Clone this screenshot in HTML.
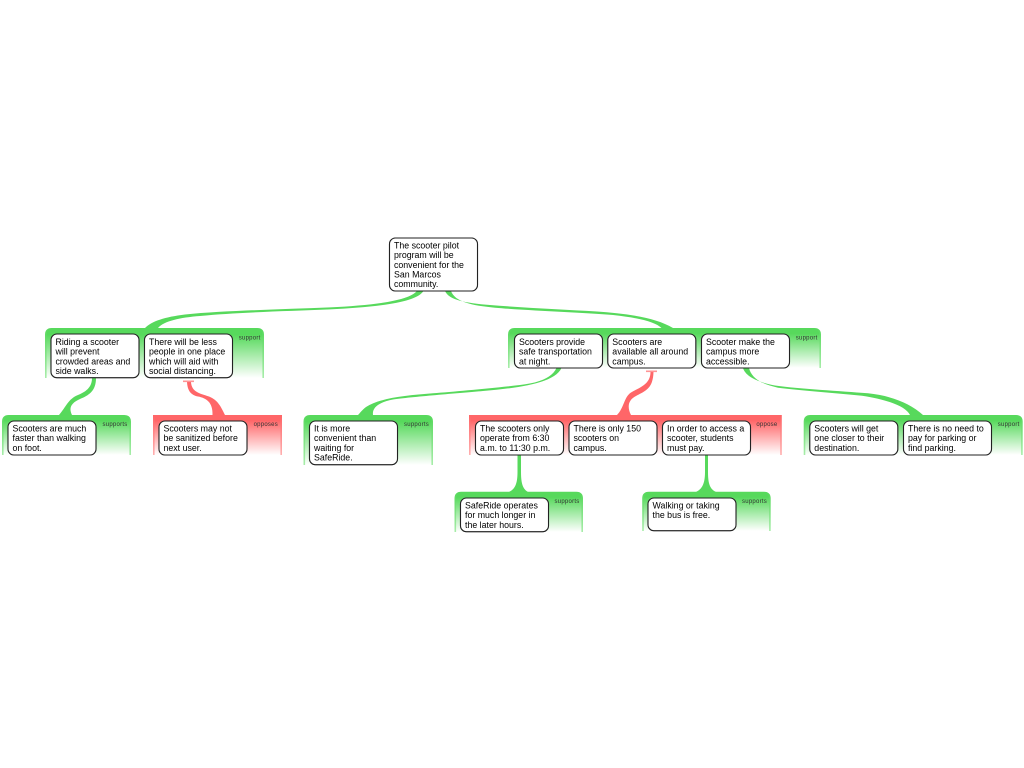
<!DOCTYPE html>
<html>
<head>
<meta charset="utf-8">
<style>
html,body{margin:0;padding:0;background:#fff;width:1024px;height:768px;overflow:hidden}
svg{display:block;position:absolute;left:0;top:0}
text{font-family:"Liberation Sans",sans-serif}
.t{font-size:8.8px;fill:#000}
.l{font-size:6px;fill:#333;text-anchor:end;letter-spacing:.25px}
.b{fill:#fff;stroke:#222;stroke-width:1.1;filter:drop-shadow(0 .6px 0 #777)}
.gg{fill:url(#fg);stroke:url(#sg);stroke-width:1.6}
.gr{fill:url(#fr);stroke:url(#sr);stroke-width:1.6}
.cg{fill:#57d95c}
.cr{fill:#ff6668}
</style>
</head>
<body>
<svg width="1024" height="768" viewBox="0 0 1024 768" xmlns="http://www.w3.org/2000/svg">
<defs>
<linearGradient id="fg" x1="0" y1="0" x2="0" y2="1"><stop offset="0" stop-color="#57d95c"/><stop offset=".12" stop-color="#57d95c"/><stop offset="1" stop-color="#fff"/></linearGradient>
<linearGradient id="sg" x1="0" y1="0" x2="0" y2="1"><stop offset="0" stop-color="#57d95c"/><stop offset="1" stop-color="#a8edaa"/></linearGradient>
<linearGradient id="fr" x1="0" y1="0" x2="0" y2="1"><stop offset="0" stop-color="#ff6668"/><stop offset=".12" stop-color="#ff6668"/><stop offset="1" stop-color="#fff"/></linearGradient>
<linearGradient id="sr" x1="0" y1="0" x2="0" y2="1"><stop offset="0" stop-color="#ff6668"/><stop offset="1" stop-color="#ffb0b0"/></linearGradient>
</defs>

<!-- connectors -->
<path class="cg" d="M417,291 C408,301 375,305 330,307.400 C280,309.500 225,310.500 185,314.500 C165,317 152,321 145,328 L158,328 C164,321 180,317.500 200,316 C235,312.500 285,311.200 330,309.400 C375,307 416,303 423.500,291 Z"/>
<path class="cg" d="M445,291 C449,300 465,303 490,305 C525,307.800 565,309.500 597,311.500 C625,313.500 655,317 673,328 L661.500,328 C655,322 640,318 613,315 C585,312.500 530,310.700 495,307.700 C472,305.500 455,302 451,291 Z"/>
<path class="cg" d="M92,378 C92,388 85,392 78,395 C68,399 66,407 59,415 L72,415 C68.500,408 71,403 80,399 C90,395 96,390 96,378 Z"/>
<path class="cr" d="M187,382 C187.500,391 191,395 198,396.500 C206,398 213,402 212.500,415 L225,415 C221,407 218,400 209,396.500 C200,393.500 191.500,392 191,382 Z"/>
<rect x="183" y="380.500" width="11" height="1.600" fill="#ff9496"/>
<path class="cg" d="M556.500,368 C552,378 538,383 520,385 C490,388.500 455,391.500 433,393.300 C405,395.500 380,398 366,407 C362,410 360,413 358,415 L373,415 C372,408 378,402.500 393,399.500 C410,397 460,393 483,391 C525,387.500 555,382 561.500,368 Z"/>
<path class="cr" d="M650.500,372 C650.500,385 638,388 631,392.500 C624,397 624,408 617,415 L631,415 C627,407 628,400 636,396 C645,391 653,389 653.500,372 Z"/>
<rect x="646" y="370.500" width="11" height="1.600" fill="#ff9496"/>
<path class="cg" d="M743,368 C746,378 762,383 775,385.500 C800,389 840,391 868,393.300 C890,395.500 910,403 923,415 L910,415 C906,407 890,400 862,395.700 C835,393 800,390.500 778,387.700 C765,385 752,380 749,368 Z"/>
<path class="cg" d="M517.500,455 L517.500,472 C517.500,484 515,489 509,492 L528,492 C523,489 521,484 521,472 L521,455 Z"/>
<path class="cg" d="M705,455 L705,472 C705,484 702,489 696,492 L716,492 C710,489 708,484 708,472 L708,455 Z"/>

<!-- groups -->
<path class="gg" d="M45.800,378 V334.800 Q45.800,328.800 51.800,328.800 H257.200 Q263.200,328.800 263.200,334.800 V378"/>
<path class="gg" d="M508.800,368 V334.800 Q508.800,328.800 514.800,328.800 H814.200 Q820.200,328.800 820.200,334.800 V368"/>
<path class="gg" d="M2.800,455 V421.800 Q2.800,415.800 8.800,415.800 H124.200 Q130.200,415.800 130.200,421.800 V455"/>
<path class="gr" d="M153.800,455 V415.800 H281.200 V455"/>
<path class="gg" d="M304.300,465 V421.800 Q304.300,415.800 310.300,415.800 H426.200 Q432.200,415.800 432.200,421.800 V465"/>
<path class="gr" d="M469.800,455 V415.800 H781 V455"/>
<path class="gg" d="M804.500,455 V421.800 Q804.500,415.800 810.500,415.800 H1015.900 Q1021.900,415.800 1021.900,421.800 V455"/>
<path class="gg" d="M455.300,532 V498.500 Q455.300,492.500 461.300,492.500 H576.200 Q582.200,492.500 582.200,498.500 V532"/>
<path class="gg" d="M643,531 V498.500 Q643,492.500 649,492.500 H763.900 Q769.900,492.500 769.900,498.500 V531"/>

<!-- group labels -->
<text class="l" x="260.500" y="339.500">support</text>
<text class="l" x="817.500" y="339.500">support</text>
<text class="l" x="127.500" y="426">supports</text>
<text class="l" x="278" y="426">opposes</text>
<text class="l" x="429" y="426">supports</text>
<text class="l" x="777.500" y="426">oppose</text>
<text class="l" x="1019.500" y="426">support</text>
<text class="l" x="579.500" y="503">supports</text>
<text class="l" x="767" y="503">supports</text>

<!-- root -->
<rect class="b" x="389.500" y="238" width="88" height="53" rx="6"/>
<text class="t" x="394" y="248.500">The scooter pilot</text>
<text class="t" x="394" y="258.200">program will be</text>
<text class="t" x="394" y="267.900">convenient for the</text>
<text class="t" x="394" y="277.500">San Marcos</text>
<text class="t" x="394" y="287.200">community.</text>

<!-- level 1 left -->
<rect class="b" x="51" y="334" width="88" height="43.700" rx="6"/>
<text class="t" x="55.500" y="345">Riding a scooter</text>
<text class="t" x="55.500" y="354.700">will prevent</text>
<text class="t" x="55.500" y="364.300">crowded areas and</text>
<text class="t" x="55.500" y="374">side walks.</text>

<rect class="b" x="144.500" y="334" width="88" height="43.700" rx="6"/>
<text class="t" x="149" y="345">There will be less</text>
<text class="t" x="149" y="354.700">people in one place</text>
<text class="t" x="149" y="364.300">which will aid with</text>
<text class="t" x="149" y="374">social distancing.</text>

<!-- level 1 right -->
<rect class="b" x="514.500" y="334" width="88" height="34" rx="6"/>
<text class="t" x="519" y="345">Scooters provide</text>
<text class="t" x="519" y="354.700">safe transportation</text>
<text class="t" x="519" y="364.300">at night.</text>

<rect class="b" x="607.800" y="334" width="88" height="34" rx="6"/>
<text class="t" x="612.300" y="345">Scooters are</text>
<text class="t" x="612.300" y="354.700">available all around</text>
<text class="t" x="612.300" y="364.300">campus.</text>

<rect class="b" x="701.500" y="334" width="88" height="34" rx="6"/>
<text class="t" x="706" y="345">Scooter make the</text>
<text class="t" x="706" y="354.700">campus more</text>
<text class="t" x="706" y="364.300">accessible.</text>

<!-- level 2 -->
<rect class="b" x="8" y="421" width="88" height="34" rx="6"/>
<text class="t" x="12.500" y="431.500">Scooters are much</text>
<text class="t" x="12.500" y="441.200">faster than walking</text>
<text class="t" x="12.500" y="451">on foot.</text>

<rect class="b" x="159" y="421" width="88" height="34" rx="6"/>
<text class="t" x="163.500" y="431.500">Scooters may not</text>
<text class="t" x="163.500" y="441.200">be sanitized before</text>
<text class="t" x="163.500" y="451">next user.</text>

<rect class="b" x="309.500" y="421" width="88" height="43.700" rx="6"/>
<text class="t" x="314" y="431.500">It is more</text>
<text class="t" x="314" y="441.200">convenient than</text>
<text class="t" x="314" y="451">waiting for</text>
<text class="t" x="314" y="460.600">SafeRide.</text>

<rect class="b" x="475.500" y="421" width="88" height="34" rx="6"/>
<text class="t" x="480" y="431.500">The scooters only</text>
<text class="t" x="480" y="441.200">operate from 6:30</text>
<text class="t" x="480" y="451">a.m. to 11:30 p.m.</text>

<rect class="b" x="569" y="421" width="88" height="34" rx="6"/>
<text class="t" x="573.500" y="431.500">There is only 150</text>
<text class="t" x="573.500" y="441.200">scooters on</text>
<text class="t" x="573.500" y="451">campus.</text>

<rect class="b" x="662.500" y="421" width="88" height="34" rx="6"/>
<text class="t" x="667" y="431.500">In order to access a</text>
<text class="t" x="667" y="441.200">scooter, students</text>
<text class="t" x="667" y="451">must pay.</text>

<rect class="b" x="809.800" y="421" width="88" height="34" rx="6"/>
<text class="t" x="814.300" y="431.500">Scooters will get</text>
<text class="t" x="814.300" y="441.200">one closer to their</text>
<text class="t" x="814.300" y="451">destination.</text>

<rect class="b" x="903.500" y="421" width="88" height="34" rx="6"/>
<text class="t" x="908" y="431.500">There is no need to</text>
<text class="t" x="908" y="441.200">pay for parking or</text>
<text class="t" x="908" y="451">find parking.</text>

<!-- level 3 -->
<rect class="b" x="460.500" y="498" width="88" height="33.700" rx="6"/>
<text class="t" x="465" y="508.500">SafeRide operates</text>
<text class="t" x="465" y="518.200">for much longer in</text>
<text class="t" x="465" y="528">the later hours.</text>

<rect class="b" x="648" y="498" width="88" height="32.700" rx="6"/>
<text class="t" x="652.500" y="508.500">Walking or taking</text>
<text class="t" x="652.500" y="518.200">the bus is free.</text>
</svg>
</body>
</html>
